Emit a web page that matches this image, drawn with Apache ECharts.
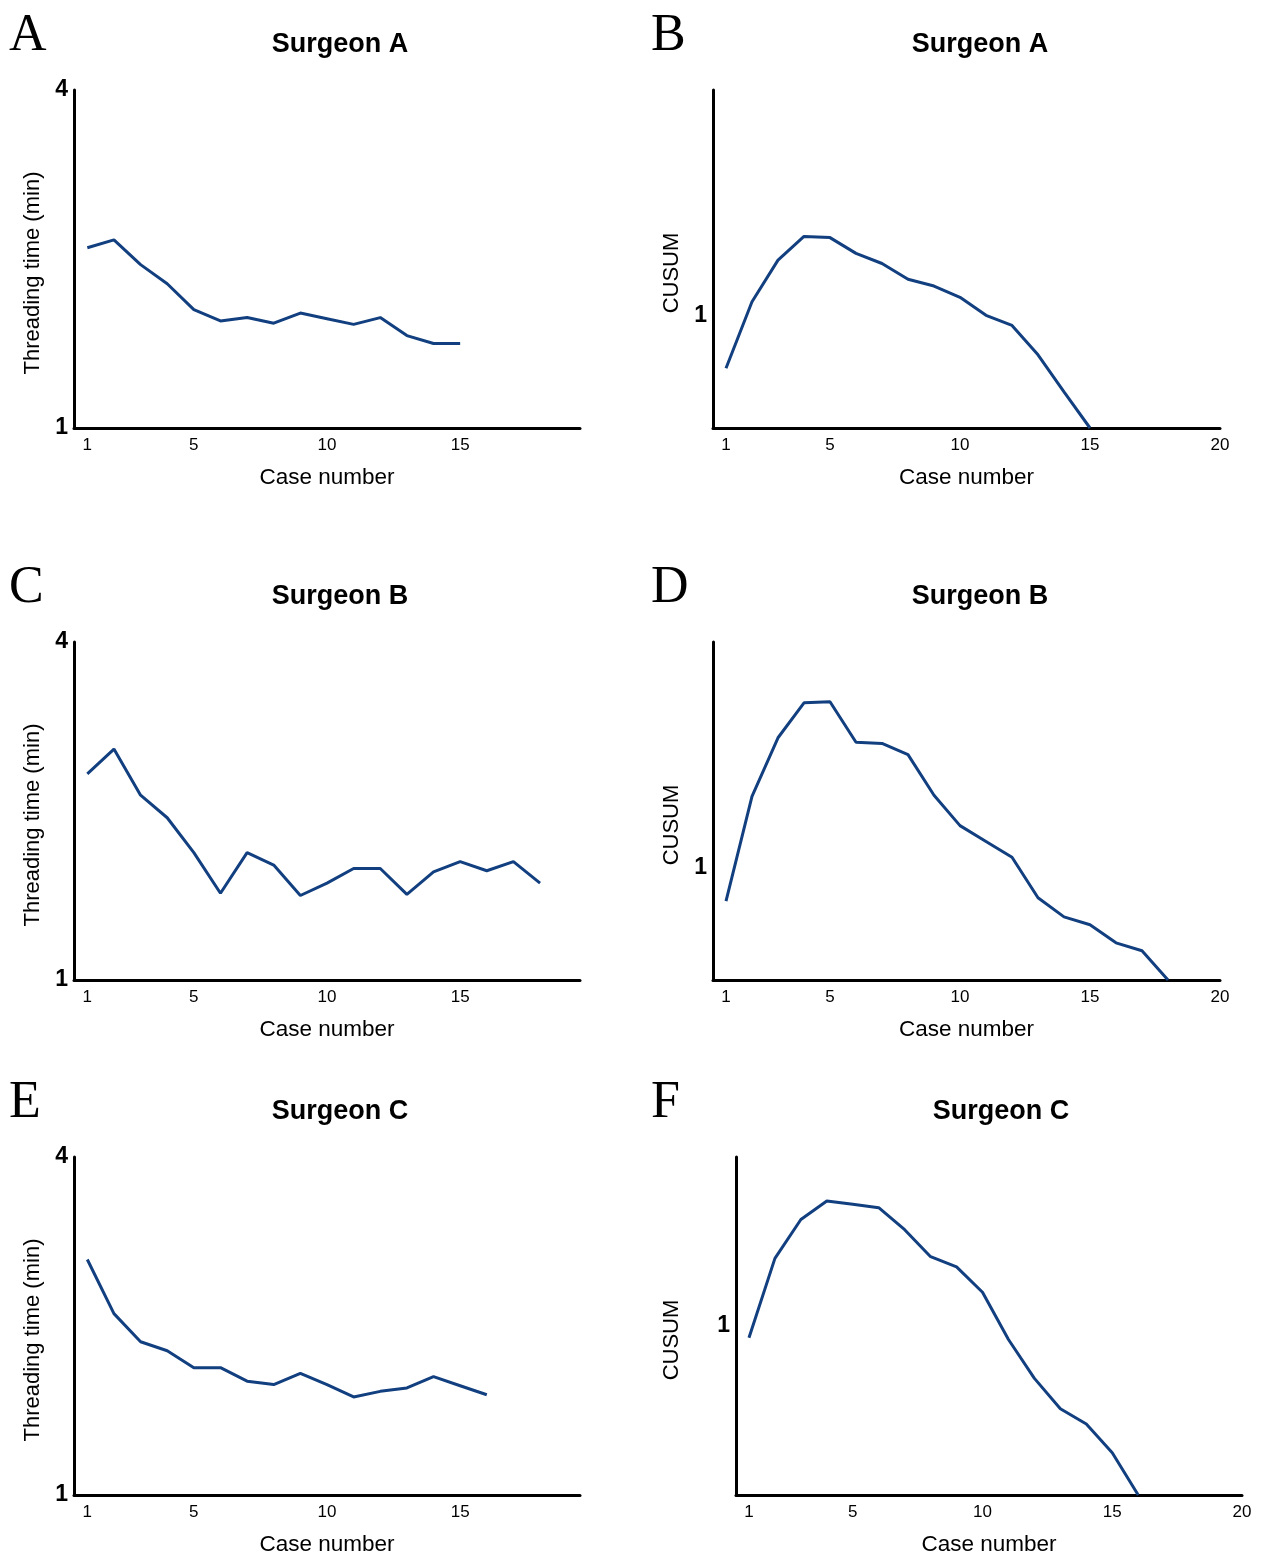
<!DOCTYPE html>
<html>
<head>
    <meta charset="utf-8">
    <title>Threading time and CUSUM</title>
    <script src="https://cdn.jsdelivr.net/npm/echarts@6/dist/echarts.min.js"></script>
    <style>
        html, body { margin: 0; padding: 0; background: #fff; }
    </style>
</head>
<body>
    <div id="main" style="width: 1261px;height:1558px;"></div>

    <script type="text/javascript">
        // case numbers
        var leftTicks = [1, 5, 10, 15];
        var rightTicks = [1, 5, 10, 15, 20];

        // threading time (min) per case
        var surgeonATime = [2.60, 2.67, 2.45, 2.28, 2.05, 1.95, 1.98, 1.93, 2.02, 1.97, 1.92, 1.98, 1.82, 1.75, 1.75];
        var surgeonBTime = [2.83, 3.05, 2.64, 2.44, 2.13, 1.77, 2.13, 2.02, 1.75, 1.86, 1.99, 1.99, 1.76, 1.96, 2.05, 1.97, 2.05, 1.86];
        var surgeonCTime = [3.09, 2.61, 2.36, 2.28, 2.13, 2.13, 2.01, 1.98, 2.08, 1.98, 1.87, 1.92, 1.95, 2.05, 1.97, 1.89];

        // CUSUM per case
        var surgeonACusum = [0.53, 1.12, 1.49, 1.70, 1.69, 1.55, 1.46, 1.32, 1.26, 1.16, 1.00, 0.91, 0.65, 0.32, 0];
        var surgeonBCusum = [0.70, 1.63, 2.15, 2.46, 2.47, 2.11, 2.10, 2.00, 1.64, 1.37, 1.23, 1.09, 0.73, 0.56, 0.49, 0.33, 0.26, 0];
        var surgeonCCusum = [0.93, 1.40, 1.63, 1.74, 1.72, 1.70, 1.57, 1.41, 1.35, 1.20, 0.92, 0.69, 0.51, 0.42, 0.25, 0];

        var lineColor = '#123f7f';
        var font = 'Liberation Sans, Arial, sans-serif';

        var toPairs = function (arr) {
            return arr.map(function (v, i) { return [i + 1, v]; });
        };

        // panel layout: grid box, axis ranges
        var panels = [
            { letter: 'A', title: 'Surgeon A', data: surgeonATime, kind: 'time',
              left: 74, top: 90, width: 506, xMax: 19.5, ticks: leftTicks, titleX: 340, letterX: 9, nameGap: 30 },
            { letter: 'B', title: 'Surgeon A', data: surgeonACusum, kind: 'cusum', yMax: 3,
              left: 713, top: 90, width: 507, xMax: 20, ticks: rightTicks, titleX: 980, letterX: 651, nameGap: 30 },
            { letter: 'C', title: 'Surgeon B', data: surgeonBTime, kind: 'time',
              left: 74, top: 642, width: 506, xMax: 19.5, ticks: leftTicks, titleX: 340, letterX: 9, nameGap: 30 },
            { letter: 'D', title: 'Surgeon B', data: surgeonBCusum, kind: 'cusum', yMax: 3,
              left: 713, top: 642, width: 507, xMax: 20, ticks: rightTicks, titleX: 980, letterX: 651, nameGap: 30 },
            { letter: 'E', title: 'Surgeon C', data: surgeonCTime, kind: 'time',
              left: 74, top: 1157, width: 506, xMax: 19.5, ticks: leftTicks, titleX: 340, letterX: 9, nameGap: 30 },
            { letter: 'F', title: 'Surgeon C', data: surgeonCCusum, kind: 'cusum', yMax: 2,
              left: 736, top: 1157, width: 506, xMax: 20, ticks: rightTicks, titleX: 1001, letterX: 651, nameGap: 53 }
        ];

        var option = {
            animation: false,
            backgroundColor: '#fff',
            textStyle: { fontFamily: font },
            title: [],
            grid: [],
            xAxis: [],
            yAxis: [],
            series: []
        };

        panels.forEach(function (p, i) {
            var height = 338;
            var isTime = p.kind === 'time';

            option.title.push({
                text: p.title,
                left: p.titleX,
                top: p.top - 59,
                padding: 0,
                textAlign: 'center',
                textStyle: { fontFamily: font, fontSize: 27, fontWeight: 'bold', color: '#000' }
            });
            option.title.push({
                text: p.letter,
                left: p.letterX,
                top: p.top - 80,
                padding: 0,
                textStyle: { fontFamily: 'Liberation Serif, Times New Roman, serif', fontSize: 52, fontWeight: 'normal', color: '#000' }
            });

            option.grid.push({ left: p.left, top: p.top, width: p.width, height: height });

            option.xAxis.push({
                type: 'value',
                gridIndex: i,
                min: 0.5,
                max: p.xMax,
                name: 'Case number',
                nameLocation: 'middle',
                nameGap: 38,
                nameTextStyle: { fontSize: 22.5, color: '#000', fontFamily: font },
                axisLine: { show: true, lineStyle: { color: '#000', width: 3 } },
                axisTick: { show: false },
                splitLine: { show: false },
                axisLabel: {
                    customValues: p.ticks,
                    margin: 9,
                    fontSize: 17,
                    color: '#000'
                }
            });

            option.yAxis.push({
                type: 'value',
                gridIndex: i,
                min: isTime ? 1 : 0,
                max: isTime ? 4 : p.yMax,
                name: isTime ? 'Threading time (min)' : 'CUSUM',
                nameLocation: 'middle',
                nameGap: p.nameGap,
                nameTextStyle: { fontSize: 22, color: '#000', fontFamily: font, padding: [0, 28, 0, 0] },
                axisLine: { show: true, lineStyle: { color: '#000', width: 3 } },
                axisTick: { show: false },
                splitLine: { show: false },
                axisLabel: {
                    customValues: isTime ? [1, 4] : [1],
                    margin: 6,
                    fontSize: 23,
                    fontWeight: 'bold',
                    color: '#000'
                }
            });

            option.series.push({
                type: 'line',
                xAxisIndex: i,
                yAxisIndex: i,
                data: toPairs(p.data),
                showSymbol: false,
                lineStyle: { color: lineColor, width: 3 },
                itemStyle: { color: lineColor }
            });
        });

        var myChart = echarts.init(document.getElementById('main'));
        myChart.setOption(option);
    </script>
</body>
</html>
